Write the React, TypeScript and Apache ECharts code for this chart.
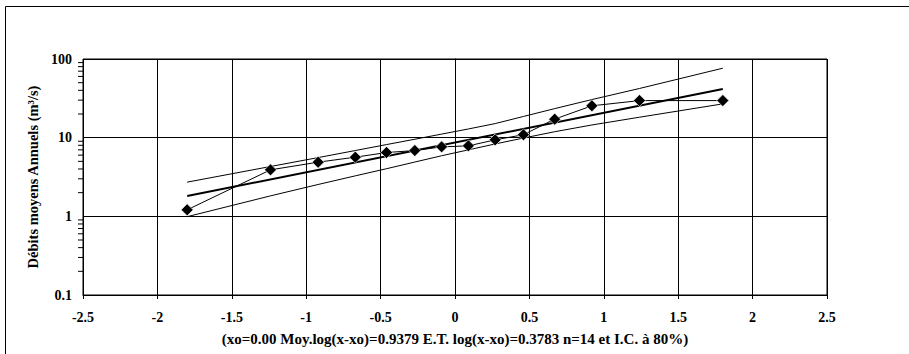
import React, { useEffect, useRef } from "react";
import * as echarts from "echarts";

const quantiles = [-1.8, -1.24, -0.92, -0.67, -0.46, -0.27, -0.09, 0.09, 0.27, 0.46, 0.67, 0.92, 1.24, 1.8];
const debits = [1.21, 3.9, 4.88, 5.65, 6.47, 6.86, 7.64, 7.87, 9.38, 10.9, 17.2, 25.4, 29.6, 29.6];
const upperCI = [2.72, 4.3, 5.58, 6.86, 8.17, 9.55, 11.1, 12.9, 15.1, 18.6, 23.4, 30.5, 42.2, 76.4];
const lowerCI = [0.99, 1.82, 2.54, 3.27, 4.03, 4.9, 5.89, 7.0, 8.32, 9.89, 11.9, 14.5, 18.2, 26.9];
const fitX = [-1.8, 1.8];
const fitY = [1.81, 41.6];
const yMinorTicks = [0.2, 0.3, 0.4, 0.5, 0.6, 0.7, 0.8, 0.9, 2, 3, 4, 5, 6, 7, 8, 9, 20, 30, 40, 50, 60, 70, 80, 90];
const yAxisName = "Débits moyens Annuels (m³/s)";
const xAxisName = "(xo=0.00 Moy.log(x-xo)=0.9379 E.T. log(x-xo)=0.3783 n=14 et I.C. à 80%)";

const FONT = '"Liberation Serif", "Times New Roman", serif';

export default function App() {
  const ref = useRef<HTMLDivElement>(null);
  useEffect(() => {
    if (!ref.current) return;
    const chart = echarts.init(ref.current, null, { renderer: "svg" });
    const pair = (xs: number[], ys: number[]) => xs.map((x, i) => [x, ys[i]]);
    chart.setOption({
      animation: false,
      backgroundColor: "#fff",
      textStyle: { fontFamily: FONT, color: "#000" },
      graphic: [
        {
          type: "rect",
          shape: { x: 5.5, y: 6.5, width: 920, height: 360 },
          style: { fill: "none", stroke: "#000", lineWidth: 1 },
          silent: true,
        },
      ],
      grid: {
        left: 83,
        right: 82,
        top: 59,
        bottom: 59,
        show: true,
        borderColor: "#000",
        borderWidth: 1,
        backgroundColor: "transparent",
      },
      xAxis: {
        type: "value",
        min: -2.5,
        max: 2.5,
        interval: 0.5,
        name: xAxisName,
        nameLocation: "middle",
        nameGap: 36,
        nameTextStyle: { fontFamily: FONT, fontWeight: "bold", fontSize: 15, color: "#000" },
        axisLine: { onZero: false, lineStyle: { color: "#000", width: 1 } },
        axisTick: { show: true, length: 4, lineStyle: { color: "#000" } },
        axisLabel: { fontFamily: FONT, fontWeight: "bold", fontSize: 14, color: "#000", margin: 15 },
        splitLine: { show: true, lineStyle: { color: "#000", width: 1 } },
      },
      yAxis: {
        type: "log",
        logBase: 10,
        min: 0.1,
        max: 100,
        name: yAxisName,
        nameLocation: "middle",
        nameGap: 34,
        nameRotate: 90,
        nameTextStyle: { fontFamily: FONT, fontWeight: "bold", fontSize: 14.5, color: "#000" },
        axisLine: { show: true, lineStyle: { color: "#000", width: 1 } },
        axisTick: { show: true, length: 5, lineStyle: { color: "#000" } },
        axisLabel: {
          fontFamily: FONT,
          fontWeight: "bold",
          fontSize: 14,
          color: "#000",
          margin: 11,
          formatter: (v: number) => String(v),
        },
        splitLine: { show: true, lineStyle: { color: "#000", width: 1 } },
      },
      series: [
        {
          type: "custom",
          silent: true,
          clip: false,
          data: yMinorTicks.map((v) => [-2.5, v]),
          renderItem: (_params: any, api: any) => {
            const p = api.coord([api.value(0), api.value(1)]);
            return {
              type: "line",
              shape: { x1: p[0] - 5, y1: p[1], x2: p[0], y2: p[1] },
              style: { stroke: "#000", lineWidth: 1 },
            };
          },
        },
        {
          type: "line",
          data: pair(quantiles, upperCI),
          showSymbol: false,
          symbol: "none",
          lineStyle: { color: "#000", width: 1 },
          z: 3,
        },
        {
          type: "line",
          data: pair(quantiles, lowerCI),
          showSymbol: false,
          symbol: "none",
          lineStyle: { color: "#000", width: 1 },
          z: 3,
        },
        {
          type: "line",
          data: pair(fitX, fitY),
          showSymbol: false,
          symbol: "none",
          lineStyle: { color: "#000", width: 2 },
          z: 4,
        },
        {
          type: "line",
          data: pair(quantiles, debits),
          symbol: "diamond",
          symbolSize: 12,
          itemStyle: { color: "#000", borderColor: "#fff", borderWidth: 0.6 },
          lineStyle: { color: "#000", width: 1 },
          z: 5,
        },
      ],
    });
    return () => chart.dispose();
  }, []);
  return (
    <div
      ref={ref}
      style={{ position: "absolute", left: 0, top: 0, width: 909, height: 354 }}
    />
  );
}
